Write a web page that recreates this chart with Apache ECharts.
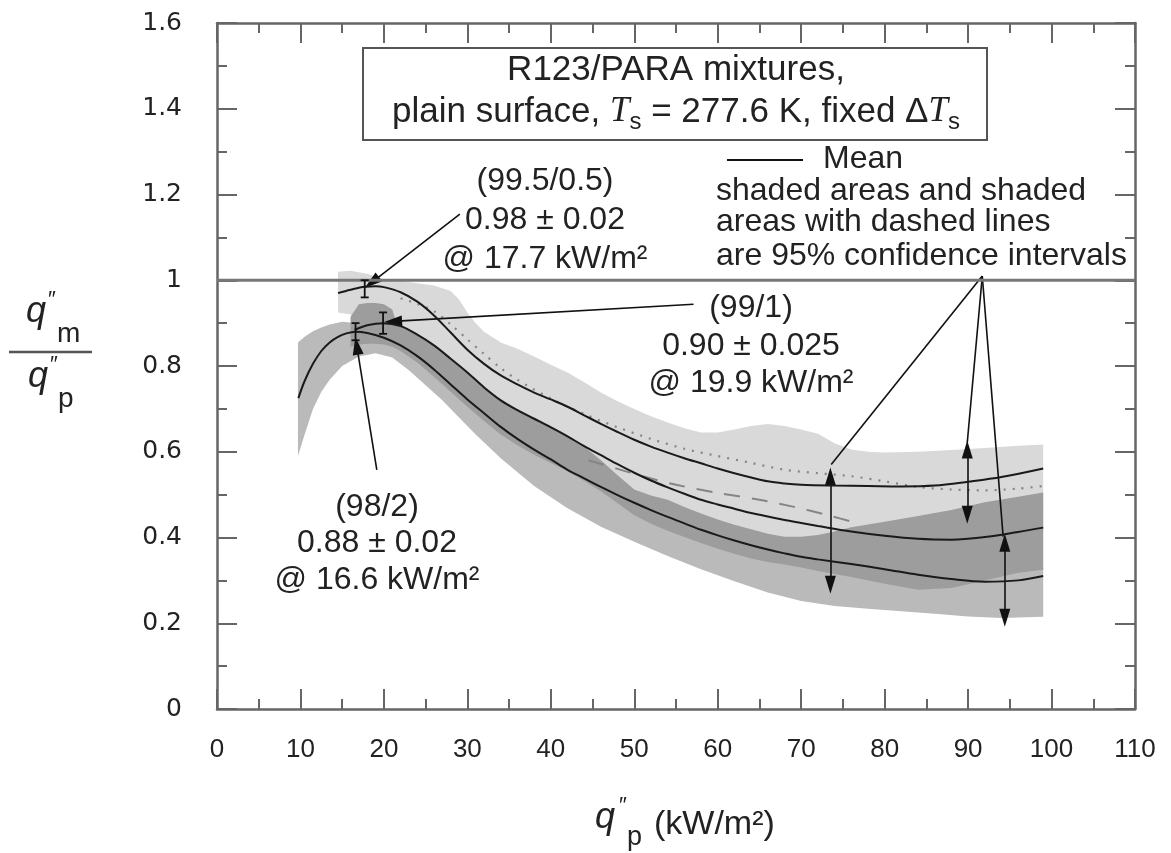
<!DOCTYPE html>
<html>
<head>
<meta charset="utf-8">
<script src="https://cdn.jsdelivr.net/npm/echarts@6/dist/echarts.min.js"></script>
<style>
html,body{margin:0;padding:0;background:#fff;}
#chart{width:1171px;height:853px;}
</style>
</head>
<body>
<div id="chart"></div>
<script>
// ---------- Mean curves ----------
const topX = [14.5, 16, 17.7, 19, 20, 22, 24, 26, 28, 30, 32, 34, 36, 38, 40, 42, 44, 46, 48, 50, 52, 54, 56, 58, 60, 62, 64, 66, 68, 70, 74, 78, 82, 86, 90, 94, 99];
const topY = [0.970, 0.978, 0.985, 0.986, 0.984, 0.972, 0.950, 0.918, 0.878, 0.838, 0.805, 0.778, 0.757, 0.738, 0.722, 0.705, 0.685, 0.665, 0.646, 0.628, 0.612, 0.598, 0.585, 0.573, 0.561, 0.550, 0.540, 0.531, 0.526, 0.523, 0.521, 0.520, 0.519, 0.521, 0.530, 0.541, 0.561];

const midX = [16.5, 18, 19.9, 22, 24, 26, 28, 30, 32, 34, 36, 38, 40, 42, 44, 46, 48, 50, 52, 54, 56, 58, 60, 62, 64, 66, 68, 70, 72, 76, 80, 84, 88, 92, 96, 99];
const midY = [0.884, 0.895, 0.900, 0.893, 0.873, 0.848, 0.817, 0.785, 0.750, 0.720, 0.697, 0.677, 0.657, 0.636, 0.613, 0.592, 0.571, 0.551, 0.533, 0.517, 0.502, 0.488, 0.477, 0.467, 0.457, 0.449, 0.441, 0.434, 0.427, 0.414, 0.404, 0.397, 0.395, 0.401, 0.413, 0.423];

const botX = [9.75, 10.5, 11.5, 12.5, 13.5, 14.5, 15.5, 16.6, 18, 20, 22, 24, 26, 28, 30, 32, 34, 36, 38, 40, 42, 44, 46, 48, 50, 52, 54, 56, 58, 60, 62, 64, 66, 68, 70, 72, 76, 80, 84, 88, 92, 96, 99];
const botY = [0.725, 0.765, 0.805, 0.835, 0.855, 0.868, 0.876, 0.880, 0.877, 0.866, 0.848, 0.823, 0.792, 0.757, 0.722, 0.690, 0.658, 0.630, 0.605, 0.582, 0.558, 0.538, 0.518, 0.499, 0.481, 0.464, 0.448, 0.433, 0.418, 0.405, 0.393, 0.382, 0.372, 0.363, 0.355, 0.349, 0.338, 0.326, 0.313, 0.303, 0.297, 0.300, 0.310];

// ---------- Dotted and dashed confidence lines ----------
const dotX = [22, 24, 26, 28, 30, 32, 34, 36, 40, 44, 48, 52, 56, 60, 64, 68, 72, 76, 80, 84, 88, 92, 96, 99];
const dotY = [0.958, 0.945, 0.928, 0.897, 0.862, 0.828, 0.795, 0.768, 0.724, 0.688, 0.657, 0.630, 0.607, 0.590, 0.574, 0.558, 0.550, 0.543, 0.531, 0.518, 0.512, 0.510, 0.514, 0.520];

const dashX = [44.5, 48, 51, 55, 60, 65, 69, 73, 77];
const dashY = [0.580, 0.560, 0.543, 0.523, 0.504, 0.488, 0.472, 0.453, 0.432];

// ---------- Shaded 95% confidence bands ----------
// (99.5/0.5) light band
const lightX  = [14.5, 16, 18, 20, 22, 24, 26, 28, 29, 30, 31, 32, 34, 36, 38, 40, 42, 44, 46, 48, 50, 52, 54, 56, 58, 60, 62, 64, 66, 68, 70, 72, 74, 76, 78, 80, 84, 88, 92, 96, 99];
const lightHi = [1.020, 1.022, 1.015, 1.002, 0.998, 0.993, 0.988, 0.975, 0.955, 0.925, 0.900, 0.880, 0.855, 0.840, 0.822, 0.803, 0.785, 0.762, 0.738, 0.718, 0.700, 0.683, 0.668, 0.655, 0.645, 0.645, 0.652, 0.660, 0.665, 0.660, 0.652, 0.642, 0.620, 0.605, 0.600, 0.598, 0.600, 0.604, 0.609, 0.614, 0.617];
const lightLo = [0.925, 0.920, 0.900, 0.890, 0.860, 0.840, 0.810, 0.780, 0.765, 0.745, 0.730, 0.715, 0.680, 0.655, 0.635, 0.615, 0.595, 0.570, 0.545, 0.515, 0.480, 0.465, 0.450, 0.435, 0.420, 0.410, 0.395, 0.385, 0.375, 0.370, 0.365, 0.362, 0.362, 0.365, 0.370, 0.375, 0.380, 0.390, 0.400, 0.410, 0.415];

// (98/2) medium band
const medX  = [9.7, 10.5, 11.5, 12.5, 13.5, 15, 17, 19, 21, 23, 25, 27, 29, 31, 34, 38, 42, 46, 50, 54, 58, 62, 66, 70, 74, 78, 82, 86, 90, 94, 99];
const medHi = [0.855, 0.868, 0.881, 0.890, 0.897, 0.903, 0.900, 0.900, 0.890, 0.850, 0.810, 0.770, 0.735, 0.700, 0.660, 0.610, 0.575, 0.525, 0.470, 0.430, 0.400, 0.375, 0.360, 0.350, 0.340, 0.330, 0.320, 0.310, 0.310, 0.320, 0.330];
const medLo = [0.590, 0.640, 0.700, 0.740, 0.768, 0.800, 0.822, 0.830, 0.820, 0.790, 0.755, 0.720, 0.680, 0.640, 0.585, 0.520, 0.468, 0.425, 0.390, 0.357, 0.326, 0.298, 0.272, 0.252, 0.240, 0.234, 0.228, 0.222, 0.216, 0.212, 0.215];

// (99/1) dark band
const darkX  = [16, 17, 18, 19, 20, 21, 21.5, 22, 24, 26, 28, 30, 32, 34, 36, 38, 40, 42, 44, 46, 48, 50, 52, 54, 56, 58, 60, 62, 64, 66, 68, 70, 72, 74, 76, 80, 84, 88, 92, 96, 99];
const darkHi = [0.915, 0.944, 0.947, 0.947, 0.944, 0.932, 0.900, 0.893, 0.873, 0.848, 0.818, 0.786, 0.753, 0.722, 0.700, 0.680, 0.660, 0.638, 0.612, 0.580, 0.545, 0.512, 0.498, 0.488, 0.471, 0.456, 0.442, 0.430, 0.419, 0.409, 0.402, 0.402, 0.406, 0.414, 0.424, 0.437, 0.450, 0.464, 0.482, 0.495, 0.505];
const darkLo = [0.845, 0.850, 0.852, 0.852, 0.850, 0.845, 0.840, 0.835, 0.808, 0.775, 0.740, 0.705, 0.672, 0.640, 0.615, 0.593, 0.574, 0.555, 0.532, 0.508, 0.480, 0.452, 0.432, 0.416, 0.401, 0.387, 0.374, 0.362, 0.351, 0.343, 0.337, 0.330, 0.322, 0.315, 0.308, 0.292, 0.278, 0.282, 0.300, 0.318, 0.325];

// ---------- Error bars at the maxima ----------
const errX    = [17.7, 19.9, 16.6];
const errMean = [0.98, 0.90, 0.88];
const errHalf = [0.02, 0.025, 0.02];

// ---------- Annotation arrows (data coordinates) ----------
const pointerArrows = [
  [[29.1, 1.154], [18.55, 0.995]],
  [[57.1, 0.944], [21.1, 0.904]],
  [[19.15, 0.558], [16.75, 0.847]]
];
const apex = [91.7, 1.01];
const apexTargets = [[73.6, 0.570], [89.9, 0.621], [94.2, 0.402]];
const doubleArrows = [
  [[73.5, 0.542], [73.5, 0.290]],
  [[89.9, 0.605], [89.9, 0.453]],
  [[94.4, 0.388], [94.4, 0.213]]
];

// ---------- Axes ----------
const xMin = 0, xMax = 110, xStep = 10;
const yMin = 0, yMax = 1.6, yStep = 0.2;
const refLevel = 1;

const FONT = "'Liberation Sans', Arial, Helvetica, sans-serif";
const AX = '#666';
const pairs = (xs, ys) => xs.map((x, i) => [x, ys[i]]);

function bandSeries(xs, lo, hi, color, z) {
  return {
    type: 'custom', z: z, silent: true, clip: true,
    data: xs.map((x, i) => [x, lo[i], hi[i]]),
    encode: { x: 0, y: [1, 2] },
    renderItem: function (params, api) {
      if (params.dataIndex !== 0) return null;
      const pts = [];
      for (let i = 0; i < xs.length; i++) pts.push(api.coord([xs[i], hi[i]]));
      for (let i = xs.length - 1; i >= 0; i--) pts.push(api.coord([xs[i], lo[i]]));
      return { type: 'polygon', shape: { points: pts }, style: { fill: color } };
    }
  };
}

function axisCommon() {
  return {
    axisLine: { show: true, onZero: false, lineStyle: { color: AX, width: 2.5 } },
    axisTick: { show: true, inside: true, length: 20, lineStyle: { color: AX, width: 2 } },
    minorTick: { show: true, splitNumber: 2, length: 10, lineStyle: { color: AX, width: 2 } },
    splitLine: { show: false },
    minorSplitLine: { show: false }
  };
}

const xAxes = [
  Object.assign({ type: 'value', position: 'bottom', min: xMin, max: xMax, interval: xStep,
    axisLabel: { show: true, margin: 28, fontSize: 26, color: '#222', fontFamily: FONT } }, axisCommon()),
  Object.assign({ type: 'value', position: 'top', min: xMin, max: xMax, interval: xStep,
    axisLabel: { show: false } }, axisCommon())
];
const yAxes = [
  Object.assign({ type: 'value', position: 'left', min: yMin, max: yMax, interval: yStep,
    axisLabel: { show: true, margin: 35, fontSize: 25, color: '#222', fontFamily: "'DejaVu Sans', sans-serif" } }, axisCommon()),
  Object.assign({ type: 'value', position: 'right', min: yMin, max: yMax, interval: yStep,
    axisLabel: { show: false } }, axisCommon())
];

const meanLine = (xs, ys) => ({
  type: 'line', data: pairs(xs, ys), symbol: 'none', smooth: 0.35, z: 5, silent: true,
  lineStyle: { color: '#1a1a1a', width: 2 }
});

const markData = [];
pointerArrows.forEach(a => markData.push([{ coord: a[0], symbol: 'none' }, { coord: a[1], symbol: 'triangle' }]));
apexTargets.forEach(t => markData.push([{ coord: apex, symbol: 'none' }, { coord: t, symbol: 'none' }]));
doubleArrows.forEach(a => markData.push([{ coord: a[0], symbol: 'triangle' }, { coord: a[1], symbol: 'triangle' }]));

const txt = (x, y, text, size, align, extra) => ({
  type: 'text', x: x, y: y, z: 20, silent: true,
  style: Object.assign({ text: text, fontSize: size, fontFamily: FONT, fill: '#222',
    align: align || 'center', verticalAlign: 'middle' }, extra || {})
});

const option = {
  animation: false,
  backgroundColor: '#fff',
  grid: { left: 217, right: 36, top: 23, bottom: 144, containLabel: false },
  xAxis: xAxes,
  yAxis: yAxes,
  series: [
    bandSeries(lightX, lightLo, lightHi, '#d9d9d9', 1),
    bandSeries(medX, medLo, medHi, '#bababa', 2),
    bandSeries(darkX, darkLo, darkHi, '#9d9d9d', 3),
    { type: 'line', data: pairs(dotX, dotY), symbol: 'none', smooth: 0.3, z: 4, silent: true,
      lineStyle: { color: '#858585', width: 2.2, type: [2, 7] } },
    { type: 'line', data: pairs(dashX, dashY), symbol: 'none', smooth: 0.3, z: 4, silent: true,
      lineStyle: { color: '#858585', width: 2, type: [16, 12] } },
    meanLine(topX, topY),
    meanLine(midX, midY),
    meanLine(botX, botY),
    { type: 'line', data: [[xMin, refLevel], [xMax, refLevel]], symbol: 'none', z: 6, silent: true,
      lineStyle: { color: '#777', width: 3 },
      markLine: { silent: true, animation: false, symbolSize: [11, 18], precision: 4,
        label: { show: false },
        lineStyle: { color: '#111', width: 1.6, type: 'solid' },
        emphasis: { disabled: true },
        data: markData } },
    { type: 'custom', z: 7, silent: true,
      data: errX.map((x, i) => [x, errMean[i], errHalf[i]]),
      encode: { x: 0, y: 1 },
      renderItem: function (params, api) {
        const x = api.value(0), m = api.value(1), h = api.value(2);
        const a = api.coord([x, m + h]), b = api.coord([x, m - h]);
        const w = 4, st = { stroke: '#111', lineWidth: 1.8 };
        return { type: 'group', children: [
          { type: 'line', shape: { x1: a[0], y1: a[1], x2: b[0], y2: b[1] }, style: st },
          { type: 'line', shape: { x1: a[0] - w, y1: a[1], x2: a[0] + w, y2: a[1] }, style: st },
          { type: 'line', shape: { x1: b[0] - w, y1: b[1], x2: b[0] + w, y2: b[1] }, style: st }
        ] };
      } }
  ],
  graphic: [
    // title box
    { type: 'rect', z: 15, silent: true, shape: { x: 363, y: 48, width: 624, height: 92 },
      style: { fill: '#fff', stroke: '#555', lineWidth: 2 } },
    txt(676, 70, 'R123/PARA mixtures,', 35),
    { type: 'text', x: 676, y: 112, z: 20, silent: true,
      style: { text: '{n|plain surface, }{i|T}{s|s}{n| = 277.6 K, fixed Δ}{i|T}{s|s}',
        align: 'center', verticalAlign: 'middle', fill: '#222', fontFamily: FONT, fontSize: 35,
        rich: {
          n: { fontSize: 35, fontFamily: FONT, fill: '#222', lineHeight: 44 },
          i: { fontSize: 35, fontFamily: "'Liberation Serif', 'Times New Roman', serif", fontStyle: 'italic', fill: '#222', lineHeight: 44 },
          s: { fontSize: 24, fontFamily: FONT, fill: '#222', lineHeight: 22, verticalAlign: 'bottom' }
        } } },
    // (99.5/0.5) annotation
    txt(545, 181, '(99.5/0.5)', 32),
    txt(545, 220, '0.98 ± 0.02', 32),
    txt(545, 259, '@ 17.7 kW/m²', 32),
    // (99/1) annotation
    txt(751, 308, '(99/1)', 32),
    txt(751, 346, '0.90 ± 0.025', 32),
    txt(751, 383, '@ 19.9 kW/m²', 32),
    // (98/2) annotation
    txt(377, 507, '(98/2)', 32),
    txt(377, 543, '0.88 ± 0.02', 32),
    txt(377, 580, '@ 16.6 kW/m²', 32),
    // legend
    { type: 'line', z: 20, silent: true, shape: { x1: 727, y1: 160, x2: 803, y2: 160 },
      style: { stroke: '#111', lineWidth: 2 } },
    txt(823, 159, 'Mean', 32, 'left'),
    txt(716, 191, 'shaded areas and shaded', 32, 'left'),
    txt(716, 222, 'areas with dashed lines', 32, 'left'),
    txt(716, 256, 'are 95% confidence intervals', 32, 'left'),
    // x axis title
    txt(595, 818, 'q', 36, 'left', { fontStyle: 'italic' }),
    txt(619, 806, '″', 22, 'left'),
    txt(627, 838, 'p', 27, 'left'),
    txt(654, 825, '(kW/m²)', 34, 'left'),
    // y axis title (fraction)
    txt(26, 312, 'q', 36, 'left', { fontStyle: 'italic' }),
    txt(48, 300, '″', 22, 'left'),
    txt(57, 334, 'm', 28, 'left'),
    { type: 'line', z: 20, silent: true, shape: { x1: 9, y1: 352, x2: 92, y2: 352 },
      style: { stroke: '#555', lineWidth: 2.5 } },
    txt(28, 377, 'q', 36, 'left', { fontStyle: 'italic' }),
    txt(50, 365, '″', 22, 'left'),
    txt(58, 399, 'p', 28, 'left')
  ]
};

const chart = echarts.init(document.getElementById('chart'), null, { renderer: 'canvas' });
chart.setOption(option);
</script>
</body>
</html>
